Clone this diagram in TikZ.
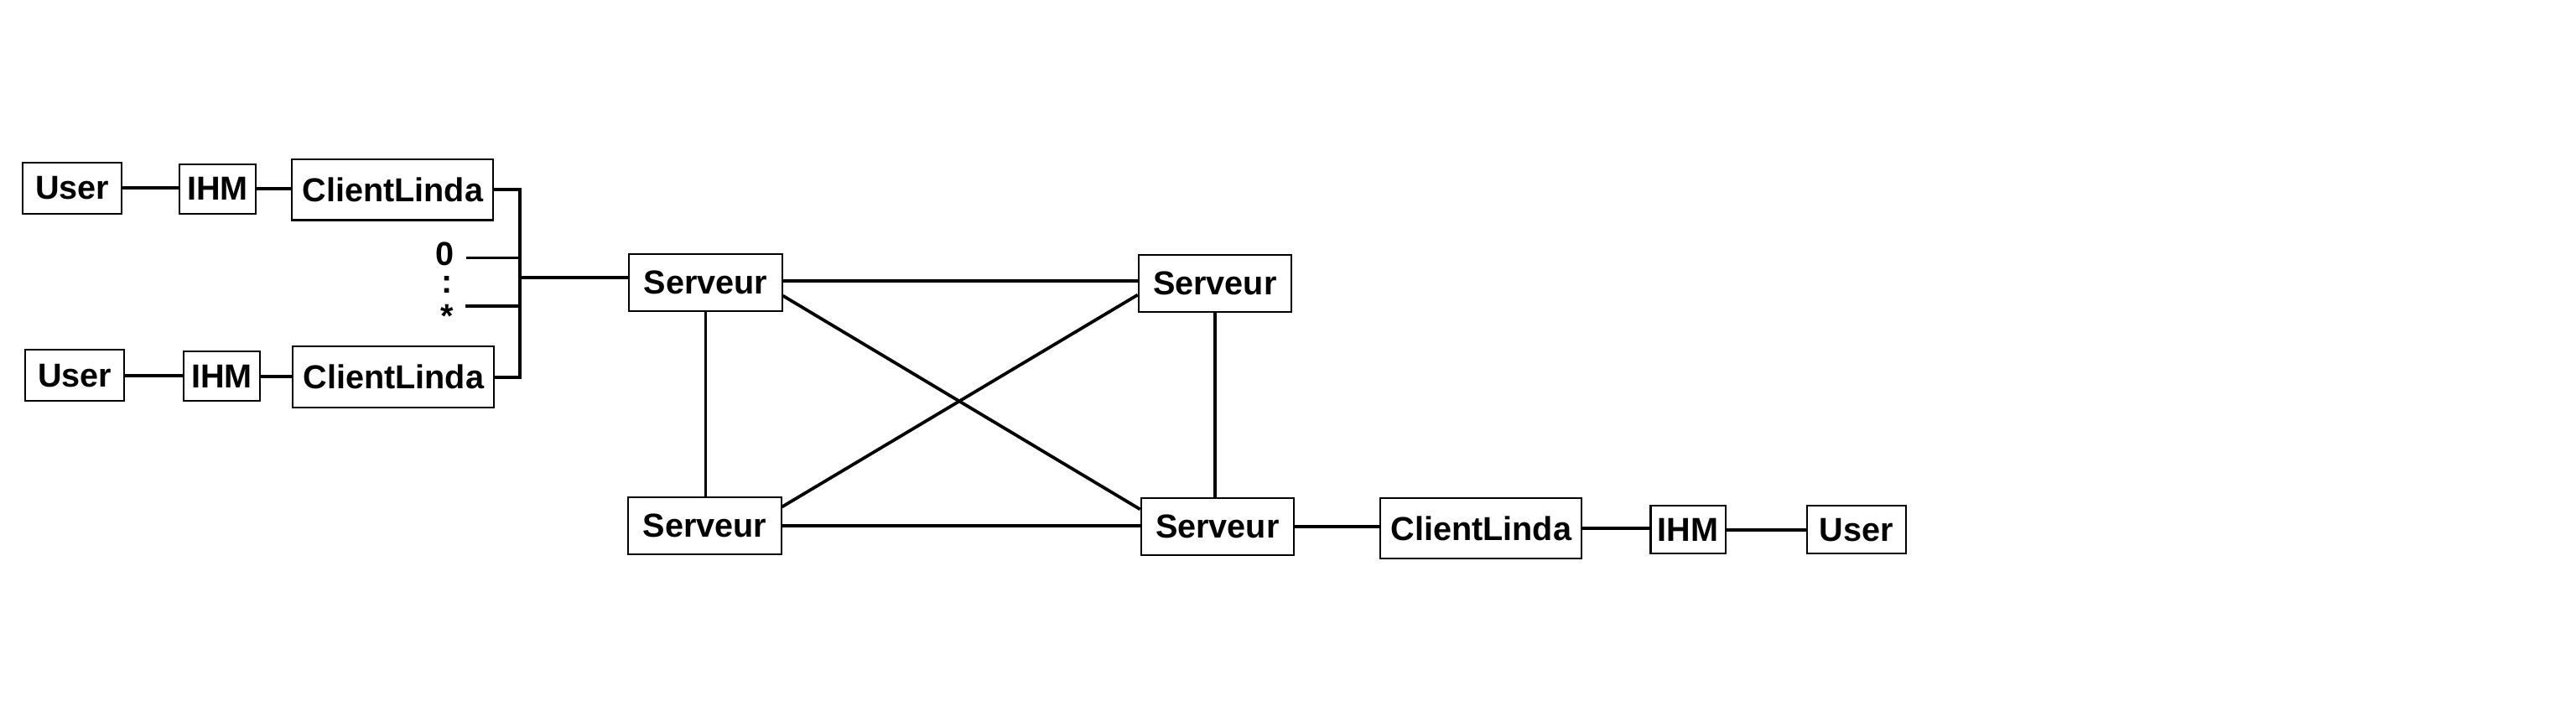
\documentclass[tikz,border=0pt]{standalone}
\usepackage{fontspec}
\setmainfont{Liberation Sans}
\usepackage{tikz}
\usetikzlibrary{positioning,calc}

\begin{document}
\begin{tikzpicture}[every node/.style={font=\fontsize{11.5}{13}\selectfont\bfseries},
  bx/.style={draw=black,line width=0.6pt,inner sep=0pt,minimum height=0.62cm,align=center},
  ln/.style={draw=black,line width=1.1pt}]
  \useasboundingbox (0,0) rectangle (31.36,-8.78);
  % clients on the left
  \node[bx,minimum width=1.2cm] (u1) at (0.88,-2.29) {User};
  \node[bx,minimum width=0.93cm,minimum height=0.6cm] (i1) at (2.65,-2.30) {IHM};
  \node[bx,minimum width=2.45cm,minimum height=0.74cm] (c1) at (4.78,-2.31) {ClientLinda};
  \node[bx,minimum width=1.2cm] (u2) at (0.91,-4.57) {User};
  \node[bx,minimum width=0.93cm,minimum height=0.6cm] (i2) at (2.70,-4.58) {IHM};
  \node[bx,minimum width=2.45cm,minimum height=0.74cm] (c2) at (4.79,-4.59) {ClientLinda};
  \node[inner sep=0pt] (z0) at (5.42,-3.09) {0};
  \node[inner sep=0pt] (zd) at (5.44,-3.47) {:};
  \node[inner sep=0pt] (zs) at (5.44,-3.85) {*};
  % servers
  \node[bx,minimum width=1.86cm,minimum height=0.7cm] (s1) at (8.59,-3.44) {Serveur};
  \node[bx,minimum width=1.86cm,minimum height=0.7cm] (s2) at (14.79,-3.45) {Serveur};
  \node[bx,minimum width=1.86cm,minimum height=0.7cm] (s3) at (8.58,-6.40) {Serveur};
  \node[bx,minimum width=1.86cm,minimum height=0.7cm] (s4) at (14.82,-6.41) {Serveur};
  % client on the right
  \node[bx,minimum width=2.45cm,minimum height=0.74cm] (c3) at (18.03,-6.43) {ClientLinda};
  \node[bx,minimum width=0.91cm,minimum height=0.58cm] (i3) at (20.55,-6.45) {IHM};
  \node[bx,minimum width=1.2cm,minimum height=0.58cm] (u3) at (22.60,-6.45) {User};

  \draw[ln] (u1.east) -- (u1.east -| i1.west);
  \draw[ln] (i1.east) -- (i1.east -| c1.west);
  \draw[ln] (u2.east) -- (u2.east -| i2.west);
  \draw[ln] (i2.east) -- (i2.east -| c2.west);
  \draw[ln] (c1.east) -- ++(0.315,0) coordinate (bt) |- (c2.east);
  \draw[ln] ([xshift=4pt,yshift=-0.05cm]z0.east) -- ([yshift=-0.05cm]z0 -| bt);
  \draw[ln] ([xshift=4pt,yshift=0.12cm]zs.east) -- ([yshift=0.12cm]zs -| bt);
  \draw[ln] ([yshift=0.06cm]s1.west) -- ([yshift=0.06cm]s1.west -| bt);
  \draw[ln] ([yshift=0.02cm]s1.east) -- ([yshift=0.02cm]s1.east -| s2.west);
  \draw[ln] (s3.east) -- (s3.east -| s4.west);
  \draw[ln] (s1.south) -- (s1.south |- s3.north);
  \draw[ln] (s2.south) -- (s2.south |- s4.north);
  \draw[ln] ([yshift=-0.16cm]s1.east) -- ([yshift=0.21cm]s4.west);
  \draw[ln] ([yshift=-0.14cm]s2.west) -- ([yshift=0.23cm]s3.east);
  \draw[ln] (s4.east) -- (s4.east -| c3.west);
  \draw[ln] (c3.east) -- (c3.east -| i3.west);
  \draw[ln] (i3.east) -- (i3.east -| u3.west);
\end{tikzpicture}
\end{document}
